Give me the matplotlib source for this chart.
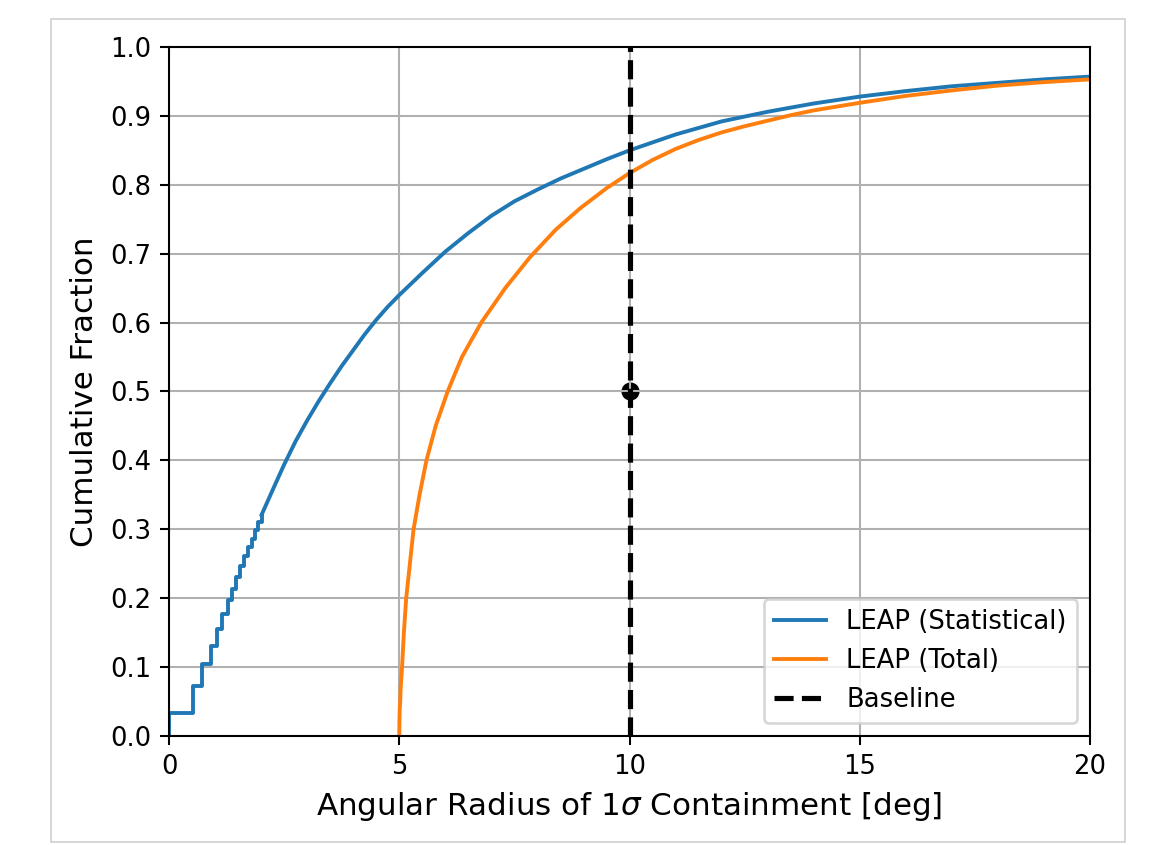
import matplotlib
matplotlib.use("Agg")
import matplotlib.pyplot as plt
from matplotlib.patches import Rectangle

# LEAP statistical: discrete steps at small radius, then smooth
stat_step_x = [0.0, 0.0, 0.51, 0.72, 0.905, 1.035, 1.14, 1.27, 1.36, 1.45,
               1.54, 1.63, 1.72, 1.80, 1.87, 1.94, 2.01]
stat_step_y = [0.0, 0.033, 0.073, 0.104, 0.131, 0.155, 0.177, 0.197, 0.214, 0.231,
               0.247, 0.261, 0.275, 0.286, 0.299, 0.310, 0.321]
stat_x = [2.01, 2.25, 2.5, 2.75, 3.0, 3.25, 3.5, 3.75, 4.0, 4.25,
          4.5, 4.75, 5.0, 5.5, 6.0, 6.5, 7.0, 7.5, 8.0, 8.5,
          9.0, 9.5, 10.0, 11.0, 12.0, 13.0, 14.0, 15.0, 16.0, 17.0,
          18.0, 19.0, 20.0]
stat_y = [0.321, 0.357, 0.394, 0.428, 0.458, 0.486, 0.512, 0.537, 0.560, 0.583,
          0.604, 0.623, 0.640, 0.672, 0.703, 0.730, 0.755, 0.776, 0.793, 0.809,
          0.823, 0.837, 0.850, 0.873, 0.892, 0.906, 0.918, 0.928, 0.936, 0.943,
          0.948, 0.953, 0.957]

# LEAP total
total_x = [5.0, 5.003, 5.01, 5.02, 5.03, 5.06, 5.10, 5.15, 5.23, 5.31,
           5.44, 5.59, 5.79, 6.05, 6.36, 6.78, 7.3, 7.84, 8.4, 8.93,
           9.5, 10.0, 10.5, 11.0, 11.5, 12.0, 12.5, 13.0, 13.5, 14.0,
           15.0, 16.0, 17.0, 18.0, 19.0, 20.0]
total_y = [0.0, 0.02, 0.04, 0.05, 0.07, 0.10, 0.15, 0.20, 0.25, 0.30,
           0.35, 0.40, 0.45, 0.50, 0.55, 0.60, 0.650, 0.695, 0.735, 0.766,
           0.795, 0.817, 0.836, 0.852, 0.865, 0.876, 0.885, 0.893, 0.901, 0.908,
           0.919, 0.929, 0.937, 0.944, 0.949, 0.953]

baseline_radius = 10
baseline_point = (10, 0.5)

fig = plt.figure(figsize=(1153 / 186, 845 / 186), dpi=186)
ax = fig.add_axes([0.1466, 0.1290, 0.7988, 0.8154])

ax.step(stat_step_x, stat_step_y, where="post", color="C0")
ax.plot(stat_x, stat_y, color="C0", label="LEAP (Statistical)")
ax.plot(total_x, total_y, color="C1", label="LEAP (Total)")
ax.axvline(baseline_radius, color="k", ls="--", lw=2, label="Baseline")
ax.scatter([baseline_point[0]], [baseline_point[1]], color="k")

ax.set_xlim(0, 20)
ax.set_ylim(0, 1)
ax.set_xticks([0, 5, 10, 15, 20])
ax.set_yticks([i / 10 for i in range(11)])
ax.grid()
ax.set_xlabel(r"Angular Radius of $1\sigma$ Containment [deg]", fontsize=12)
ax.set_ylabel("Cumulative Fraction", fontsize=12)
ax.legend(loc="lower right")

# thin gray frame around the figure
fig.patches.append(Rectangle((50.5 / 1153, 3 / 845), 1074.5 / 1153, 822.7 / 845,
                             transform=fig.transFigure, fill=False,
                             edgecolor="#cccccc", lw=0.6))

fig.savefig("out.png", dpi=186)
